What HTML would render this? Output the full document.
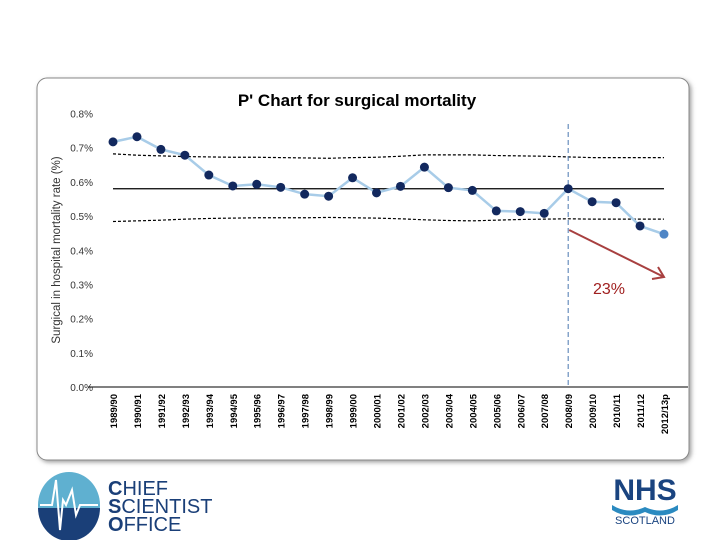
<!DOCTYPE html>
<html><head><meta charset="utf-8"><style>
body{margin:0;background:#fff;}
svg{display:block;font-family:"Liberation Sans",sans-serif;}
</style></head><body>
<svg id="c" width="720" height="540">
<defs><filter id="sh" x="-5%" y="-5%" width="110%" height="110%"><feDropShadow dx="2" dy="2" stdDeviation="2" flood-color="#666" flood-opacity="0.6"/></filter></defs>
<rect x="37" y="78" width="652" height="382" rx="10" fill="#fff" stroke="#888" stroke-width="1" filter="url(#sh)"/>
<text x="357" y="106" text-anchor="middle" font-size="17" font-weight="bold">P' Chart for surgical mortality</text>
<text transform="translate(60,250) rotate(-90)" text-anchor="middle" font-size="11.5" fill="#333">Surgical in hospital mortality rate (%)</text>
<g id="g"></g>
<g>
<ellipse cx="69" cy="505" rx="31" ry="33" fill="#5fb0d0"/>
<path d="M38,508 A31,33 0 0 0 100,508 Z" fill="#1a3f78"/>
<polyline points="40,505 52,505 56,480 60,530 63,500 66,505 72,490 76,515 80,505 98,505" fill="none" stroke="#fff" stroke-width="2"/>
<text x="108" y="495" font-size="20" fill="#1a3f78"><tspan font-weight="bold">C</tspan>HIEF</text>
<text x="108" y="513" font-size="20" fill="#1a3f78"><tspan font-weight="bold">S</tspan>CIENTIST</text>
<text x="108" y="531" font-size="20" fill="#1a3f78"><tspan font-weight="bold">O</tspan>FFICE</text>
</g>
<g>
<text x="645" y="500" text-anchor="middle" font-size="30" font-weight="bold" fill="#1a4480">NHS</text>
<path d="M612,505 Q628,515 645,507 Q662,515 678,505 L678,510 Q662,520 645,512 Q628,520 612,510 Z" fill="#2a8ac0"/>
<text x="645" y="524" text-anchor="middle" font-size="11" fill="#1a4480">SCOTLAND</text>
</g>
</svg>
<script>
const categories=["1989/90","1990/91","1991/92","1992/93","1993/94","1994/95","1995/96","1996/97","1997/98","1998/99","1999/00","2000/01","2001/02","2002/03","2003/04","2004/05","2005/06","2006/07","2007/08","2008/09","2009/10","2010/11","2011/12","2012/13p"];
const rates=[0.717,0.732,0.695,0.678,0.620,0.588,0.593,0.584,0.564,0.558,0.612,0.568,0.587,0.643,0.583,0.575,0.515,0.513,0.508,0.580,0.542,0.539,0.471,0.447];
const ucl=[0.682,0.678,0.676,0.674,0.673,0.672,0.672,0.671,0.670,0.669,0.671,0.672,0.675,0.679,0.679,0.679,0.677,0.676,0.675,0.673,0.671,0.671,0.671,0.671];
const lcl=[0.484,0.486,0.488,0.491,0.493,0.494,0.495,0.495,0.495,0.496,0.495,0.494,0.492,0.489,0.487,0.486,0.488,0.490,0.491,0.492,0.491,0.491,0.491,0.491];
const centre=0.580;
const yTicks=[0,0.1,0.2,0.3,0.4,0.5,0.6,0.7,0.8];
const reduction="23%";
const NS="http://www.w3.org/2000/svg",g=document.getElementById('g');
const x=i=>113+i*(664-113)/(categories.length-1);
const y=v=>387-v*(273.5/0.8);
function mk(t,a,p){const e=document.createElementNS(NS,t);for(const k in a)e.setAttribute(k,a[k]);(p||g).appendChild(e);return e;}
yTicks.forEach(v=>{const e=mk('text',{x:93,y:y(v)+4,'text-anchor':'end','font-size':10,fill:'#333'});e.textContent=v.toFixed(1)+'%';

});
let ax=mk('line',{x1:88,x2:688,y1:y(0),y2:y(0),stroke:'#000'});


categories.forEach((c,i)=>{const e=mk('text',{transform:`translate(${x(i)+4},394) rotate(-90)`,'text-anchor':'end','font-size':9.5,'font-weight':'bold'});e.textContent=c;

});
let cl=mk('line',{x1:x(0),x2:x(categories.length-1),y1:y(centre),y2:y(centre),stroke:'#000','stroke-width':1.2});


[ucl,lcl].forEach((arr,k)=>{const e=mk('polyline',{points:arr.map((v,i)=>x(i)+','+y(v)).join(' '),fill:'none',stroke:'#000','stroke-dasharray':'3,2','stroke-width':1.2});

});
const vi=categories.indexOf("2008/09");
let vl=mk('line',{x1:x(vi),x2:x(vi),y1:124,y2:y(0),stroke:'#4a78b0','stroke-dasharray':'5,3'});


let ln=mk('polyline',{points:rates.map((v,i)=>x(i)+','+y(v)).join(' '),fill:'none',stroke:'#a8cce8','stroke-width':2.5});


rates.forEach((v,i)=>{const last=i===rates.length-1;const e=mk('circle',{cx:x(i),cy:y(v),r:4.5,fill:last?'#4f86c6':'#12285e'});

});
const ar=mk('g',{});


mk('line',{x1:x(vi)+1,y1:230,x2:x(categories.length-1),y2:277,stroke:'#a84040','stroke-width':2},ar);
mk('polyline',{points:`${x(categories.length-1)-12},279 ${x(categories.length-1)},277 ${x(categories.length-1)-6},267`,fill:'none',stroke:'#a84040','stroke-width':2},ar);
let rt=mk('text',{x:609,y:294,'text-anchor':'middle','font-size':16,fill:'#a02020'});rt.textContent=reduction;


</script>
</body></html>
